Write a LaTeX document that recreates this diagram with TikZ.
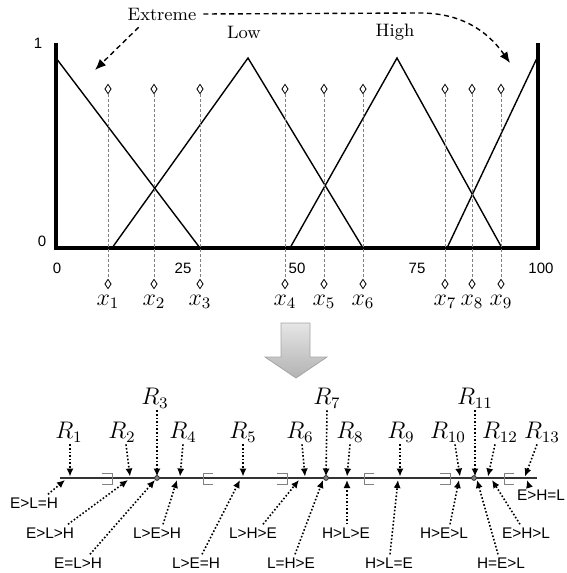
\documentclass[tikz,border=0pt]{standalone}
\usepackage{amsmath}
\usepackage{fontspec}
\newfontfamily\lab{Liberation Sans}
\usetikzlibrary{calc,shapes.geometric,arrows.meta}

\begin{document}
\begin{tikzpicture}[x=0.5pt,y=-0.5pt]
	\tikzset{diam/.style = {shape=diamond, draw, fill=white, inner sep=0pt, minimum width=3.2pt, minimum height=4.8pt, line width=0.4pt},
		probe/.style = {gray, line width=0.5pt, dash pattern=on 1.5pt off 1pt},
		memb/.style = {line width=0.7pt},
		ptr/.style = {densely dotted, line width=0.8pt, -{Latex[length=4pt,width=3.6pt]}},
		hint/.style = {line width=0.7pt, dash pattern=on 2.5pt off 1.8pt, -{Latex[length=5.5pt,width=4.5pt]}},
		tick/.style = {font=\lab\fontsize{7.5}{9}\selectfont, inner sep=1pt},
		rule/.style = {font=\lab\fontsize{7.7}{9}\selectfont, inner sep=1.5pt},
		reg/.style = {font=\fontsize{12}{14}\selectfont, inner sep=1pt},
		set/.style = {font=\fontsize{9}{11}\selectfont},
		gap/.style = {gray, line width=0.5pt},
		dot/.style = {shape=circle, draw=gray!40!black, fill=gray, inner sep=0pt, minimum size=2.4pt}}
	\useasboundingbox (0,0) rectangle (567,573);
	\draw[line width=2pt] (56,43) -- (56,248) -- (538,248) -- (538,43);
	\draw[memb] (56,58) -- (200,248);
	\draw[memb] (112,248) -- (248,58) -- (363,248);
	\draw[memb] (290,248) -- (397,58) -- (502,248);
	\draw[memb] (447,248) -- (537,58);
	\node[tick] (one) at (38,43) {1};
	\node[tick] (zero) at (42,241) {0};
	\foreach \v/\x in {0/57, 25/183, 50/297, 75/417, 100/541}{
		\node[tick] (n\v) at (\x,268) {\v};
	}
	\foreach \k/\x in {1/108, 2/154, 3/200, 4/285, 5/324, 6/363, 7/445, 8/472, 9/501}{
		\node[diam] (u\k) at (\x,89) {};
		\node[diam] (d\k) at (\x,284) {};
		\draw[probe] (u\k) -- (d\k);
		\node[reg] (x\k) at (\x,302) {$x_{\k}$};
	}
	\node[set] (ext) at (162,14) {Extreme};
	\node[set] (low) at (244,32) {Low};
	\node[set] (high) at (395,32) {High};
	\coordinate (el) at (95,70);
	\coordinate (er) at (510,63);
	\draw[hint] ([xshift=9pt]ext.south west) -- (el);
	\draw[hint] (ext.east) -- (420,13) to[out=0, in=125] (er);
	\draw[draw=gray!70, top color=gray!20, bottom color=gray!60] (281,323) -- (310,323) -- (310,357) -- (327,357) -- (296,378) -- (265,357) -- (281,357) -- cycle;
	\draw[line width=1pt, gray!40!black] (60,478) -- (537,478);
	\foreach \x in {107, 282, 445}{
		\draw[gap] (\x-5,473) -- (\x+5,473) -- (\x+5,484) -- (\x-5,484);
	}
	\foreach \x in {208, 369, 509}{
		\draw[gap] (\x+5,473) -- (\x-5,473) -- (\x-5,484) -- (\x+5,484);
	}
	\foreach \x in {157, 326, 474}{
		\node[dot] at (\x,478) {};
	}
	\foreach \k/\px/\py/\sh/\tip in {1/69/432/1/70, 2/122/432/4/130, 3/155/398/2/157, 4/183/432/0/180, 5/243/432/0/243, 6/300/432/2/305, 7/327/398/0/326, 8/350/432/0/347, 9/401/432/-1/400, 10/448/432/7/460, 11/475/398/0/475, 12/500/432/-5/488, 13/542/432/-5/525}{
		\node[reg] (r\k) at (\px,\py) {$R_{\k}$};
		\coordinate (p\k) at (\tip,476.5);
		\draw[ptr] ([xshift=\sh*0.5pt]r\k.south) -- (p\k);
	}
	\foreach \k/\lbl/\px/\py/\sh/\tip in {1/E>L=H/34/503/14/65, 2/E>L>H/50/533/18/128, 3/E=L>H/78/563/12/155, 4/L>E>H/157/533/6/177, 5/L>E=H/196/563/6/240, 6/L>H>E/253/533/10/299, 7/L=H>E/291/563/4/323, 8/H>L>E/346/533/1/347, 9/H>L=E/389/563/1/398, 10/H>E>L/444/533/6/459, 11/H=E>L/501/563/-3/477, 12/E>H>L/526/533/-6/492, 13/E>H=L/541/495/-12/527}{
		\node[rule] (q\k) at (\px,\py) {\lbl};
		\coordinate (c\k) at (\tip,480);
		\draw[ptr] ([xshift=\sh*0.5pt]q\k.north) -- (c\k);
	}
\end{tikzpicture}
\end{document}
